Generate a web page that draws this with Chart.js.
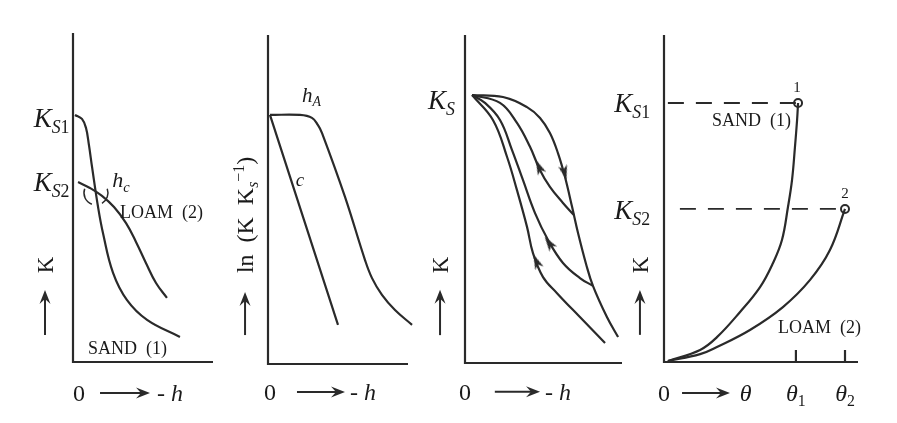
<!DOCTYPE html>
<html>
<head>
<meta charset="utf-8">
<script src="https://cdn.jsdelivr.net/npm/chart.js@4/dist/chart.umd.min.js"></script>
<style>
  html, body { margin: 0; padding: 0; background: #fff; }
  #wrap { position: relative; width: 897px; height: 423px; }
  #wrap canvas { position: absolute; left: 0; top: 0; }
</style>
</head>
<body>
<div id="wrap">
  <canvas id="p1" width="897" height="423"></canvas>
  <canvas id="p2" width="897" height="423"></canvas>
  <canvas id="p3" width="897" height="423"></canvas>
  <canvas id="p4" width="897" height="423"></canvas>
</div>
<script>
// panel 1: K(h) for sand and loam (x = -h, y = K, both 0..100)
const sandK = [[1.4,75.1],[6.4,73.9],[9.3,71.1],[11.4,65.9],[13.6,59.3],[17.9,47.1],[21.4,39.2],[28.6,27.1],[38.6,18.8],[52.9,12.8],[76.4,7.6]];
const loamK = [[3.6,54.7],[12.1,52.9],[20.7,50.5],[29.3,47.1],[37.9,42.2],[45,36.5],[52.1,30.1],[59.3,24.0],[67.1,19.5]];
const crossing = [16.4, 51.4];

// panel 2: ln(K/Ks) against -h
const lnKAir = [[1.4,75.7],[22.9,75.7],[31.4,74.8],[35.7,72.6],[38.6,70.2],[55,50.8],[69.3,31.6],[74.3,26.1],[81.4,21.0],[90.7,16.4],[102.9,11.9]];
const lnKLine = [[1.4,75.7],[25.7,43.8],[50,11.9]];

// panel 3: hysteresis, main drying / wetting and two scanning curves
const dryMain = [[4.5,81.7],[24.2,81.1],[39.5,78],[47.8,74.7],[54.1,70.1],[59.2,64.0],[63.7,56.7],[68.2,47.6],[72,39.6],[77.1,30.2],[81.5,23.5],[90.4,14.0],[97.5,7.9]];
const wetMain = [[4.5,81.7],[17.8,74.1],[26.8,62.8],[33.1,52.7],[39.5,41.5],[43.3,33.5],[49.7,26.2],[58.6,21.3],[73.2,14.0],[89.2,6.1]];
const scanOne = [[4.5,81.7],[22.3,79.3],[33.1,73.2],[41.4,65.9],[47.8,58.8],[54.1,53.7],[62.4,48.8],[69.4,45.1]];
const scanTwo = [[4.5,81.7],[12.7,79.3],[22.3,74.1],[29.9,65.0],[36.9,55.8],[44.6,45.7],[52.9,37.5],[62.4,30.5],[73.2,25.9],[81.5,23.5]];
const loopArrows = [[63.4,58],[47.1,59.8],[53.5,36.6],[45.5,31]];
const loopArrowTurn = [165, -24, -35, -23];

// panel 4: K(theta)
const sandTheta = [[2,0.3],[18.6,3.7],[27.3,7.6],[39.2,15.3],[49.5,22.9],[56.2,30.3],[60.8,37.3],[63.9,47.4],[66,55.7],[67.5,65.7],[68.6,74],[69.1,79.2]];
const loamTheta = [[2,0.3],[18.6,2.4],[27.3,4.6],[44.3,9.8],[61.3,16.8],[75.3,25.1],[85.6,34.3],[93.3,46.8]];
const satPoints = [[69.1,79.2],[93.3,46.8]];
const ks1Line = [[2,79.2],[69.1,79.2]];
const ks2Line = [[8.2,46.8],[93.3,46.8]];
const thetaTicks = [68, 93.3];

const INK = '#2a2a2a';
const FONT = '"Liberation Serif", "DejaVu Serif", serif';

// narrow arrowhead used as point style for the loop arrows
function tipImage() {
  const c = document.createElement('canvas');
  c.width = 9; c.height = 15;
  const g = c.getContext('2d');
  g.fillStyle = INK;
  g.beginPath();
  g.moveTo(4.5, 0); g.lineTo(9, 15); g.lineTo(4.5, 11); g.lineTo(0, 15);
  g.closePath(); g.fill();
  return c;
}

function drawRich(ctx, parts, x, y, size, align) {
  const runs = parts.map(([t, s = '']) => {
    const small = s.includes('b') || s.includes('p');
    const fs = small ? size * 0.66 : size;
    const font = (s.includes('i') ? 'italic ' : '') + fs + 'px ' + FONT;
    const dy = s.includes('b') ? size * 0.22 : s.includes('p') ? -size * 0.38 : 0;
    ctx.font = font;
    return { t, font, dy, w: ctx.measureText(t).width };
  });
  const total = runs.reduce((a, r) => a + r.w, 0);
  let cx = align === 'right' ? x - total : align === 'center' ? x - total / 2 : x;
  const base = y + size * 0.33;
  ctx.textAlign = 'left';
  ctx.textBaseline = 'alphabetic';
  runs.forEach(r => {
    ctx.font = r.font;
    ctx.fillText(r.t, cx, base + r.dy);
    cx += r.w;
  });
}

function arrowLine(ctx, x1, y1, x2, y2) {
  const a = Math.atan2(y2 - y1, x2 - x1);
  const L = 14, W = 5.5;
  ctx.beginPath();
  ctx.moveTo(x1, y1);
  ctx.lineTo(x2 - Math.cos(a) * 8, y2 - Math.sin(a) * 8);
  ctx.stroke();
  ctx.beginPath();
  ctx.moveTo(x2, y2);
  ctx.lineTo(x2 - L * Math.cos(a) - W * Math.sin(a), y2 - L * Math.sin(a) + W * Math.cos(a));
  ctx.lineTo(x2 - 9 * Math.cos(a), y2 - 9 * Math.sin(a));
  ctx.lineTo(x2 - L * Math.cos(a) + W * Math.sin(a), y2 - L * Math.sin(a) - W * Math.cos(a));
  ctx.closePath();
  ctx.fill();
}

function sketchPlugin(notes) {
  return {
    id: 'sketch',
    afterDatasetsDraw(chart) {
      const { ctx, chartArea: a, scales: { x, y } } = chart;
      const px = v => x.getPixelForValue(v);
      const py = v => y.getPixelForValue(v);
      ctx.save();
      ctx.strokeStyle = INK;
      ctx.fillStyle = INK;
      ctx.lineWidth = 2.2;
      ctx.beginPath();
      ctx.moveTo(a.left, a.top);
      ctx.lineTo(a.left, a.bottom);
      ctx.lineTo(a.right, a.bottom);
      ctx.stroke();
      (notes.ticks || []).forEach(v => {
        ctx.beginPath();
        ctx.moveTo(px(v), a.bottom);
        ctx.lineTo(px(v), a.bottom - 12);
        ctx.stroke();
      });
      ctx.lineWidth = 2;
      (notes.arrows || []).forEach(([x1, y1, x2, y2]) => arrowLine(ctx, px(x1), py(y1), px(x2), py(y2)));
      ctx.lineWidth = 1.5;
      (notes.arcs || []).forEach(([cx, cy, r, a0, a1]) => {
        ctx.beginPath();
        ctx.arc(px(cx), py(cy), r, a0 * Math.PI / 180, a1 * Math.PI / 180);
        ctx.stroke();
      });
      ctx.fillStyle = '#1a1a1a';
      (notes.texts || []).forEach(t => {
        if (t.rot) {
          ctx.save();
          ctx.translate(px(t.x), py(t.y));
          ctx.rotate(-Math.PI / 2);
          drawRich(ctx, t.p, 0, 0, t.size, 'center');
          ctx.restore();
        } else {
          drawRich(ctx, t.p, px(t.x), py(t.y), t.size, t.align || 'left');
        }
      });
      ctx.restore();
    }
  };
}

function curve(data, extra) {
  return Object.assign({ data, borderColor: INK, borderWidth: 2.2, pointRadius: 0,
    tension: 0.4, fill: false, clip: false }, extra || {});
}

function makePanel(id, pad, datasets, notes) {
  return new Chart(document.getElementById(id), {
    type: 'line',
    data: { datasets },
    options: {
      responsive: false,
      animation: false,
      events: [],
      layout: { padding: pad },
      plugins: { legend: { display: false }, tooltip: { enabled: false } },
      scales: {
        x: { type: 'linear', min: 0, max: 100, display: false },
        y: { type: 'linear', min: 0, max: 100, display: false }
      }
    },
    plugins: [sketchPlugin(notes)]
  });
}

const KS = (n) => [['K', 'i'], ['S', 'ib'], [n, 'b']];
const minusH = [['- '], ['h', 'i']];

makePanel('p1', { left: 73, right: 684, top: 33, bottom: 61 },
  [curve(sandK), curve(loamK)],
  {
    texts: [
      { p: KS('1'), x: -2.5, y: 74.2, size: 27, align: 'right' },
      { p: KS('2'), x: -2.5, y: 54.7, size: 27, align: 'right' },
      { p: [['h', 'i'], ['c', 'ib']], x: 28, y: 55.5, size: 22 },
      { p: [['LOAM  (2)']], x: 33.6, y: 45.6, size: 18 },
      { p: [['SAND  (1)']], x: 10.7, y: 4.3, size: 18 },
      { p: [['K']], x: -20, y: 29.5, size: 23, rot: true },
      { p: [['0']], x: 4.3, y: -9.4, size: 24, align: 'center' },
      { p: minusH, x: 60, y: -9.4, size: 24 }
    ],
    arrows: [[-20, 8.2, -20, 21.9], [19.3, -9.4, 55, -9.4]],
    arcs: [[crossing[0], crossing[1], 12, 110, 200], [crossing[0], crossing[1], 12, -20, 60]]
  });

makePanel('p2', { left: 268, right: 489, top: 35, bottom: 59 },
  [curve(lnKAir), curve(lnKLine, { tension: 0 })],
  {
    texts: [
      { p: [['h', 'i'], ['A', 'ib']], x: 24.3, y: 81.8, size: 21 },
      { p: [['c', 'i']], x: 22.9, y: 55.9, size: 19, align: 'center' },
      { p: [['ln  (K  K'], ['s', 'ib'], ['−1', 'p'], [')']], x: -16.4, y: 45.3, size: 24, rot: true },
      { p: [['0']], x: 1.4, y: -8.5, size: 24, align: 'center' },
      { p: minusH, x: 58.6, y: -8.5, size: 24 }
    ],
    arrows: [[-16.4, 8.8, -16.4, 21.9], [20.7, -8.5, 55, -8.5]]
  });

makePanel('p3', { left: 465, right: 275, top: 35, bottom: 60 },
  [curve(dryMain), curve(wetMain), curve(scanOne), curve(scanTwo),
   { data: loopArrows, showLine: false, pointStyle: tipImage(), pointRotation: loopArrowTurn,
     pointRadius: 6, clip: false }],
  {
    texts: [
      { p: [['K', 'i'], ['S', 'ib']], x: -6.4, y: 80.2, size: 27, align: 'right' },
      { p: [['K']], x: -15.9, y: 29.9, size: 23, rot: true },
      { p: [['0']], x: 0, y: -8.8, size: 24, align: 'center' },
      { p: minusH, x: 51, y: -8.8, size: 24 }
    ],
    arrows: [[-15.9, 8.5, -15.9, 22.3], [19, -8.8, 47.8, -8.8]]
  });

makePanel('p4', { left: 664, right: 39, top: 35, bottom: 61 },
  [curve(sandTheta), curve(loamTheta),
   curve(ks1Line, { borderDash: [16, 12], borderWidth: 1.8, tension: 0 }),
   curve(ks2Line, { borderDash: [16, 12], borderWidth: 1.8, tension: 0 }),
   { data: satPoints, showLine: false, pointRadius: 4, pointBorderWidth: 2,
     pointBorderColor: INK, pointBackgroundColor: '#fff', clip: false }],
  {
    ticks: thetaTicks,
    texts: [
      { p: KS('1'), x: -7.2, y: 79.2, size: 27, align: 'right' },
      { p: KS('2'), x: -7.2, y: 46.5, size: 27, align: 'right' },
      { p: [['K']], x: -12.4, y: 29.7, size: 23, rot: true },
      { p: [['1']], x: 68.6, y: 84.2, size: 15, align: 'center' },
      { p: [['2']], x: 93.3, y: 51.7, size: 15, align: 'center' },
      { p: [['SAND  (1)']], x: 24.7, y: 74, size: 18 },
      { p: [['LOAM  (2)']], x: 58.8, y: 10.7, size: 18 },
      { p: [['0']], x: 0, y: -9.5, size: 24, align: 'center' },
      { p: [['θ', 'i']], x: 39, y: -9.5, size: 24 },
      { p: [['θ', 'i'], ['1', 'b']], x: thetaTicks[0], y: -9.5, size: 24, align: 'center' },
      { p: [['θ', 'i'], ['2', 'b']], x: thetaTicks[1], y: -9.5, size: 24, align: 'center' }
    ],
    arrows: [[-12.4, 8.3, -12.4, 22.0], [9.3, -9.5, 34, -9.5]]
  });
</script>
</body>
</html>
